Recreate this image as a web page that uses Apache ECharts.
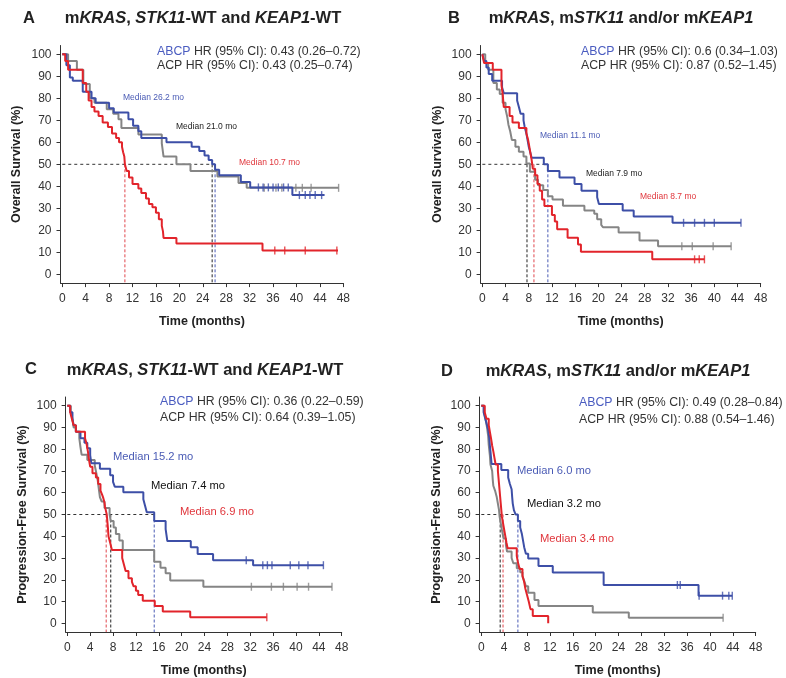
<!DOCTYPE html>
<html>
<head>
<meta charset="utf-8">
<script src="https://cdn.jsdelivr.net/npm/echarts@6/dist/echarts.min.js"></script>
<style>
  html, body { margin: 0; background: #fff; }
  #main { width: 786px; height: 678px; }
</style>
</head>
<body>
<div id="main"></div>
<script>
// tick values
const monthTicks = [0, 4, 8, 12, 16, 20, 24, 28, 32, 36, 40, 44, 48]
const pctTicks = [0, 10, 20, 30, 40, 50, 60, 70, 80, 90, 100]

// Panel A: OS, mKRAS STK11-WT KEAP1-WT  ([month, survival % from that month on])
const osWtGray = [[0, 100], [1, 97], [2.5, 93], [3.6, 86.5], [4.7, 80], [5.5, 78], [7.6, 75], [8.7, 73], [9.6, 70.5], [10.1, 66.5], [13, 63.5], [17, 59.5], [17.3, 53.5], [19.5, 50], [21.9, 47], [26.5, 44.4], [30.1, 41.5], [31.5, 39.3], [47.2, 39.3]]
const osWtBlue = [[0, 100], [0.7, 95], [1.3, 89.5], [1.8, 88], [3.5, 83], [5, 80], [5.7, 78], [8, 75.5], [8.8, 73.5], [11.3, 70.5], [12.1, 67.5], [13, 65], [13.5, 62], [17.8, 60], [22.1, 58], [23.4, 56], [24.3, 54], [25, 52], [25.6, 50], [26.1, 47.5], [26.8, 45], [30.5, 42], [32.1, 39.5], [39.3, 36], [44.8, 36]]
const osWtRed = [[0, 100], [0.5, 97], [1, 93], [3.5, 87], [4.1, 83], [4.5, 79], [5, 76], [5.5, 74], [6.2, 72], [6.9, 69], [7.8, 67], [8.5, 64], [9.2, 62], [9.7, 60], [10.2, 58], [10.4, 55.5], [10.6, 53.5], [10.7, 50], [11, 47], [11.4, 44], [12, 41], [13, 39], [13.5, 37], [14.3, 34.5], [14.8, 32], [15.4, 30.5], [16, 28], [16.5, 25], [17, 22], [17.2, 19.5], [17.3, 16.5], [19.5, 14], [34.2, 10.8], [47.1, 10.8]]
const osWtGrayCens = [34.5, 36.5, 37.5, 39.9, 41, 42.5, 47.2]
const osWtBlueCens = [33.5, 34.3, 35.2, 36, 36.9, 37.8, 38.6, 40.5, 41.5, 42.3, 43.2, 44.3]
const osWtRedCens = [36.3, 38, 41.5, 46.9]
const osWtMedians = [25.6, 26.1, 10.7]

// Panel B: OS, mKRAS mSTK11 and/or mKEAP1
const osMutGray = [[0, 100], [0.5, 96], [1, 93], [1.9, 87], [2.5, 84], [3, 82], [3.5, 78], [4, 75], [4.3, 71.5], [4.5, 68], [4.8, 65], [5.1, 61], [5.7, 58], [6.3, 55.7], [7.1, 53.5], [7.6, 50.4], [8.2, 46.6], [9.1, 43], [9.6, 40.5], [10.5, 38.3], [11.3, 35.5], [12.1, 34], [13.9, 31.2], [17.6, 29], [19.3, 27.5], [19.8, 25], [20.5, 22.5], [20.8, 21.4], [23.5, 19], [27.1, 15.4], [30.3, 12.7], [42.9, 12.7]]
const osMutBlue = [[0, 100], [0.3, 97], [0.7, 94], [1.1, 91], [1.7, 88], [3.4, 85], [3.7, 82.3], [6, 79], [6.3, 76], [6.6, 73], [7.1, 70], [7.3, 67], [7.6, 64], [7.8, 61], [8, 58], [8.2, 56], [8.5, 53], [10.6, 50], [11.3, 47], [13.3, 44], [15.9, 41], [17.1, 38], [19.8, 35], [20.1, 32], [24.2, 29], [26.1, 26.3], [32.8, 23.4], [44.6, 23.4]]
const osMutRed = [[0, 100], [0.3, 96], [1.8, 93], [3.3, 86], [3.5, 82], [3.7, 76], [4.7, 72], [5.2, 69], [6.3, 66.5], [7.6, 64], [7.9, 61], [8.1, 58], [8.3, 55], [8.5, 52], [8.7, 48], [9.1, 45], [9.5, 41], [9.9, 38], [10.3, 34], [10.7, 31], [12, 27], [12.5, 24], [12.9, 20.5], [14.7, 16.6], [16.5, 13.5], [17, 10.3], [29.3, 6.8], [38.3, 6.8]]
const osMutGrayCens = [34.4, 36.2, 39.8, 42.9]
const osMutBlueCens = [34.7, 36.6, 38.3, 40, 44.6]
const osMutRedCens = [36.6, 37.4, 38.3]
const osMutMedians = [7.7, 11.3, 8.9]

// Panel C: PFS, mKRAS STK11-WT KEAP1-WT
const pfsWtGray = [[0, 100], [0.6, 97], [0.9, 94], [1.1, 90], [1.5, 88], [2.1, 85], [2.3, 81], [2.5, 77.5], [3.5, 75], [4.8, 72.5], [5, 70], [5.3, 66], [5.5, 62], [5.7, 58], [6, 56], [6.5, 53], [7.4, 50], [7.6, 47], [8.1, 44], [8.5, 41], [9.1, 38], [9.7, 33.7], [15.2, 28.3], [16.3, 25.5], [17.2, 23], [18, 19.7], [23.8, 16.8], [46.3, 16.8]]
const pfsWtBlue = [[0, 100], [0.5, 97], [0.9, 94], [1.1, 91], [1.5, 88], [2.3, 85], [3, 83], [3.5, 80.4], [4, 77.3], [4.2, 73.5], [5.7, 71], [7.5, 68], [8, 65], [8.3, 62.8], [9.8, 60.2], [13.3, 57], [13.6, 54], [13.9, 51], [15.2, 47], [17.2, 43.3], [17.5, 37.8], [21.6, 34.9], [22.8, 31.8], [25.5, 29], [32.5, 26.7], [44.8, 26.7]]
const pfsWtRed = [[0, 100], [0.5, 97], [0.8, 94], [1.1, 91], [1.5, 88], [3.1, 85], [3.4, 82], [3.6, 79], [3.8, 75], [4, 72], [4.4, 69], [5, 67], [5.4, 64], [5.8, 61], [6.1, 59], [6.3, 57.5], [6.5, 55.5], [6.6, 53.5], [6.9, 50], [7, 47], [7.1, 44], [7.2, 40], [7.5, 37], [7.8, 33.7], [9.6, 30], [9.9, 27], [10.2, 24], [10.7, 20.7], [11.3, 19], [11.6, 17], [12, 15], [12.4, 13], [13.2, 10.4], [15.3, 8], [16.7, 5.4], [21.5, 2.8], [34.9, 2.8]]
const pfsWtGrayCens = [32.2, 35.7, 37.8, 40.2, 42.2, 46.3]
const pfsWtBlueCens = [31.3, 34.2, 35, 35.8, 39, 40.5, 42.1, 44.8]
const pfsWtRedCens = [34.9]
const pfsWtMedians = [7.6, 15.2, 6.8]

// Panel D: PFS, mKRAS mSTK11 and/or mKEAP1
const pfsMutGray = [[0, 100], [0.5, 97], [0.8, 93], [1, 90], [1.2, 86], [1.3, 82], [1.5, 77], [1.6, 73], [1.9, 70], [2, 66], [2.1, 63.2], [2.4, 61], [2.7, 58], [2.9, 55], [3.1, 52], [3.2, 49], [3.4, 46], [3.6, 43], [3.9, 39], [4.3, 36], [4.5, 33], [5.3, 30], [5.6, 27.6], [6.2, 25.3], [6.8, 23.5], [7.2, 21.5], [7.5, 19.5], [7.8, 17], [8.2, 14], [9.3, 10.7], [10, 8], [19.5, 5], [25.8, 2.6], [42.3, 2.6]]
const pfsMutBlue = [[0, 100], [0.4, 97], [0.7, 94], [0.9, 92], [1.2, 89], [1.4, 85], [1.5, 81.6], [1.6, 79], [1.7, 76], [1.8, 73.2], [3.5, 70.5], [4.7, 67], [5, 64], [5.3, 61.6], [5.4, 58], [5.5, 55], [5.7, 52], [6, 50], [6.4, 47], [6.8, 44], [7.1, 41], [7.3, 38], [7.5, 35], [7.8, 32], [8.2, 29.8], [10, 26.3], [12.5, 23.4], [21.4, 17.6], [38, 12.7], [43.9, 12.7]]
const pfsMutRed = [[0, 100], [0.6, 97], [0.9, 94], [1.3, 91], [1.5, 88], [1.7, 85], [1.9, 81.6], [2.1, 79], [2.3, 76], [2.5, 73], [2.9, 70], [3, 67], [3.1, 64], [3.2, 61], [3.3, 58], [3.4, 55], [3.5, 52], [3.6, 49], [3.8, 46], [4, 43], [4.2, 40], [4.4, 37], [4.6, 34.5], [6.2, 31], [6.4, 28], [6.7, 25], [7.2, 22], [7.5, 19], [7.7, 16], [8, 13], [8.3, 10], [8.6, 6.5], [9, 3.3], [11.7, 0]]
const pfsMutGrayCens = [42.3]
const pfsMutBlueCens = [34.3, 34.8, 38.1, 42.2, 43.3, 43.9]
const pfsMutRedCens = []
const pfsMutMedians = [3.3, 6.4, 3.8]

const BLUE = '#3d4fa7'
const RED = '#e2242b'
const GRAY = '#858585'
const BLACK = '#222222'
const FONT = 'Arial, "Liberation Sans", sans-serif'
const armColors = [GRAY, BLUE, RED]
const medColors = [BLACK, '#4a5bb5', '#e0454c']

const panels = [
  {
    curves: [osWtGray, osWtBlue, osWtRed],
    cens: [osWtGrayCens, osWtBlueCens, osWtRedCens],
    medians: osWtMedians,
    yName: 'Overall Survival (%)',
    grid: { left: 60.5, top: 45.5, width: 282.8, height: 237.6 }
  },
  {
    curves: [osMutGray, osMutBlue, osMutRed],
    cens: [osMutGrayCens, osMutBlueCens, osMutRedCens],
    medians: osMutMedians,
    yName: 'Overall Survival (%)',
    grid: { left: 480.6, top: 45.5, width: 280.1, height: 237.6 }
  },
  {
    curves: [pfsWtGray, pfsWtBlue, pfsWtRed],
    cens: [pfsWtGrayCens, pfsWtBlueCens, pfsWtRedCens],
    medians: pfsWtMedians,
    yName: 'Progression-Free Survival (%)',
    grid: { left: 65.6, top: 397, width: 276.1, height: 235 }
  },
  {
    curves: [pfsMutGray, pfsMutBlue, pfsMutRed],
    cens: [pfsMutGrayCens, pfsMutBlueCens, pfsMutRedCens],
    medians: pfsMutMedians,
    yName: 'Progression-Free Survival (%)',
    grid: { left: 479.6, top: 397, width: 276.1, height: 235 }
  }
]

// survival value of a step curve at time t
function survAt (curve, t) {
  let s = curve[0][1]
  curve.forEach(p => { if (p[0] <= t + 1e-6) s = p[1] })
  return s
}

const grids = []
const xAxes = []
const yAxes = []
const series = []

panels.forEach((p, i) => {
  grids.push(Object.assign({ containLabel: false, outerBoundsMode: 'none' }, p.grid))
  xAxes.push({
    gridIndex: i,
    type: 'value',
    min: -0.3,
    max: 48,
    name: 'Time (months)',
    nameLocation: 'middle',
    nameGap: 32,
    nameTextStyle: { fontFamily: FONT, fontSize: 12.5, fontWeight: 'bold', color: '#222' },
    axisLine: { show: true, onZero: false, lineStyle: { color: '#333', width: 1 } },
    axisTick: { show: true, length: 4, customValues: monthTicks, lineStyle: { color: '#333' } },
    axisLabel: { show: true, customValues: monthTicks, fontFamily: FONT, fontSize: 12, color: '#333', margin: 10 },
    splitLine: { show: false }
  })
  yAxes.push({
    gridIndex: i,
    type: 'value',
    min: -4,
    max: 104,
    name: p.yName,
    nameLocation: 'middle',
    nameGap: 37,
    nameTextStyle: { fontFamily: FONT, fontSize: 12.5, fontWeight: 'bold', color: '#222' },
    axisLine: { show: true, onZero: false, lineStyle: { color: '#333', width: 1 } },
    axisTick: { show: true, length: 4, customValues: pctTicks, lineStyle: { color: '#333' } },
    axisLabel: { show: true, customValues: pctTicks, fontFamily: FONT, fontSize: 12, color: '#333', margin: 9 },
    splitLine: { show: false }
  })

  // median guide lines
  const maxMed = Math.max.apply(null, p.medians)
  series.push({
    type: 'line', xAxisIndex: i, yAxisIndex: i, symbol: 'none', silent: true, z: 1,
    data: [[0, 50], [maxMed, 50]],
    lineStyle: { color: '#333', width: 1, type: [3, 3] }
  })
  p.medians.forEach((m, k) => {
    series.push({
      type: 'line', xAxisIndex: i, yAxisIndex: i, symbol: 'none', silent: true, z: 1,
      data: [[m, 50], [m, -4]],
      lineStyle: { color: medColors[k], width: 1, type: [3, 2] }
    })
  })

  // survival curves and censor marks
  p.curves.forEach((c, k) => {
    series.push({
      type: 'line', step: 'end', xAxisIndex: i, yAxisIndex: i, symbol: 'none', silent: true, z: 3 + k,
      data: c,
      lineStyle: { color: armColors[k], width: 2 }
    })
    series.push({
      type: 'scatter', xAxisIndex: i, yAxisIndex: i, silent: true, z: 3 + k,
      symbol: 'rect', symbolSize: [1.4, 8],
      itemStyle: { color: armColors[k] },
      data: p.cens[k].map(t => [t, survAt(c, t)])
    })
  })
})

function txt (x, y, text, opts) {
  return {
    type: 'text', x: x, y: y, silent: true,
    style: Object.assign({
      text: text,
      fontFamily: FONT,
      fontSize: 12,
      fill: '#222',
      align: 'left',
      textAlign: 'left',
      verticalAlign: 'middle',
      textVerticalAlign: 'middle'
    }, opts)
  }
}

const italicRich = { i: { fontFamily: FONT, fontSize: 16.5, fontWeight: 'bold', fontStyle: 'italic', fill: '#222' } }
const hrRich = { b: { fontFamily: FONT, fontSize: 12.3, fill: '#4a5cc0' } }
const titleWt = 'm{i|KRAS}, {i|STK11}-WT and {i|KEAP1}-WT'
const titleMut = 'm{i|KRAS}, m{i|STK11} and/or m{i|KEAP1}'
const bigTitle = { fontSize: 16.5, fontWeight: 'bold', align: 'center', textAlign: 'center', rich: italicRich }
const letter = { fontSize: 16.5, fontWeight: 'bold' }
const hr = { fontSize: 12.3, fill: '#333', rich: hrRich }

const graphics = [
  txt(23, 18, 'A', letter),
  txt(203, 18, titleWt, bigTitle),
  txt(448, 18, 'B', letter),
  txt(621, 18, titleMut, bigTitle),
  txt(25, 369, 'C', letter),
  txt(205, 370, titleWt, bigTitle),
  txt(441, 371, 'D', letter),
  txt(618, 371, titleMut, bigTitle),

  txt(157, 52, '{b|ABCP} HR (95% CI): 0.43 (0.26–0.72)', hr),
  txt(157, 66, 'ACP HR (95% CI): 0.43 (0.25–0.74)', hr),
  txt(581, 52, '{b|ABCP} HR (95% CI): 0.6 (0.34–1.03)', hr),
  txt(581, 66, 'ACP HR (95% CI): 0.87 (0.52–1.45)', hr),
  txt(160, 402, '{b|ABCP} HR (95% CI): 0.36 (0.22–0.59)', hr),
  txt(160, 418, 'ACP HR (95% CI): 0.64 (0.39–1.05)', hr),
  txt(579, 403, '{b|ABCP} HR (95% CI): 0.49 (0.28–0.84)', hr),
  txt(579, 420, 'ACP HR (95% CI): 0.88 (0.54–1.46)', hr),

  txt(123, 98, 'Median 26.2 mo', { fontSize: 8.5, fill: '#4a5bb5' }),
  txt(176, 127, 'Median 21.0 mo', { fontSize: 8.5, fill: '#222' }),
  txt(239, 163, 'Median 10.7 mo', { fontSize: 8.5, fill: '#e0363c' }),
  txt(540, 136, 'Median 11.1 mo', { fontSize: 8.5, fill: '#4a5bb5' }),
  txt(586, 174, 'Median 7.9 mo', { fontSize: 8.5, fill: '#222' }),
  txt(640, 197, 'Median 8.7 mo', { fontSize: 8.5, fill: '#e0363c' }),
  txt(113, 457, 'Median 15.2 mo', { fontSize: 11.2, fill: '#4a5bb5' }),
  txt(151, 486, 'Median 7.4 mo', { fontSize: 11.2, fill: '#111' }),
  txt(180, 512, 'Median 6.9 mo', { fontSize: 11.2, fill: '#e0363c' }),
  txt(517, 471, 'Median 6.0 mo', { fontSize: 11.2, fill: '#4a5bb5' }),
  txt(527, 504, 'Median 3.2 mo', { fontSize: 11.2, fill: '#111' }),
  txt(540, 539, 'Median 3.4 mo', { fontSize: 11.2, fill: '#e0363c' })
]

const chart = echarts.init(document.getElementById('main'))
chart.setOption({
  animation: false,
  backgroundColor: '#fff',
  grid: grids,
  xAxis: xAxes,
  yAxis: yAxes,
  series: series,
  graphic: graphics
})
</script>
</body>
</html>
